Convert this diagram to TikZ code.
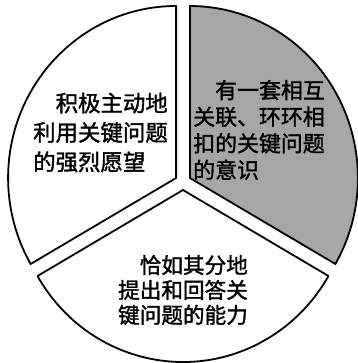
\documentclass[tikz,border=0pt]{standalone}
\usepackage{fontspec}
\newfontfamily\cjk[FakeBold=1.5]{Noto Sans CJK SC}
\usepackage{tikz}
\tikzstyle{sector} = [draw=black, line width=1.8bp, line join=round]
\tikzstyle{label} = [align=left, inner sep=0pt, font=\cjk\fontsize{21.5}{28}\selectfont]

\begin{document}
\begin{tikzpicture}[x=1bp,y=1bp]
\useasboundingbox (0,0) rectangle (358,363);

% apexes of the three pieces, each pulled out from the centre
\coordinate (apexL) at (176.1,185);
\coordinate (apexR) at (189.9,185);
\coordinate (apexB) at (183,173);
%
\draw [sector, fill=white] (apexL) -- ++(90:168 and 172)
	arc[start angle=90, end angle=210, x radius=168, y radius=172] -- cycle;
\draw [sector, fill=black!35] (apexR) -- ++(-30:168 and 172)
	arc[start angle=-30, end angle=90, x radius=168, y radius=172] -- cycle;
\draw [sector, fill=white] (apexB) -- ++(210:168 and 172)
	arc[start angle=210, end angle=330, x radius=168, y radius=172] -- cycle;
%
\node (wish) [label, font=\cjk\fontsize{22.5}{29.5}\selectfont] at (100.5,230.5)
	{\hspace*{1em}积极主动地\\利用关键问题\\的强烈愿望};
\node (sense) [label, font=\cjk\fontsize{22}{26.7}\selectfont] at (259,233)
	{\hspace*{1em}有一套相互\\关联、环环相\\扣的关键问题\\的意识};
\node (skill) [label, font=\cjk\fontsize{21.7}{25}\selectfont] at (183,73)
	{\hspace*{1em}恰如其分地\\提出和回答关\\键问题的能力};
\end{tikzpicture}
\end{document}
